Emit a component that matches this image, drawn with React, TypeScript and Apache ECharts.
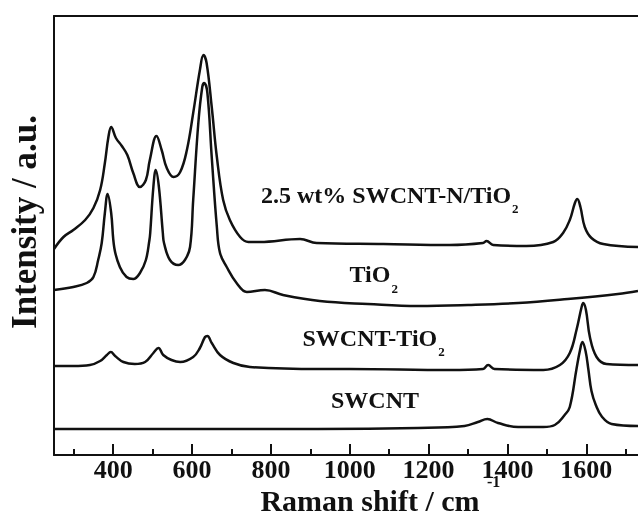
import React, { useEffect, useRef } from "react";
import * as echarts from "echarts";

// 2.5 wt% SWCNT-N/TiO2 (top spectrum)
const nTiO2Wn = [250, 274, 299, 329, 350, 367, 379, 388, 395, 407, 422, 436, 451, 468, 483, 493, 510, 523, 536, 553, 570, 587, 603, 620, 629, 637, 650, 663, 679, 696, 722, 743, 772, 874, 916, 1085, 1254, 1338, 1347, 1364, 1448, 1516, 1541, 1558, 1571, 1577, 1585, 1596, 1613, 1643, 1731];
const nTiO2Int = [206, 218, 225, 235, 247, 265, 292, 318, 328, 317, 309, 300, 282, 268, 275, 295, 319, 305, 287, 278, 283, 305, 342, 385, 400, 392, 348, 298, 255, 235, 218, 213, 213, 216, 212, 211, 210, 212, 214, 210, 209, 213, 222, 235, 252, 256, 248, 228, 217, 211, 208];

// TiO2
const tiO2Wn = [250, 299, 333, 350, 362, 371, 379, 386, 395, 403, 417, 434, 451, 468, 483, 492, 494, 502, 508, 516, 526, 529, 544, 565, 582, 595, 603, 616, 626, 631, 639, 650, 663, 671, 688, 713, 739, 785, 831, 924, 1046, 1173, 1300, 1427, 1553, 1680, 1731];
const tiO2Int = [165, 168, 172, 178, 195, 212, 242, 261, 242, 207, 188, 178, 176, 182, 195, 215, 222, 268, 285, 268, 222, 212, 195, 190, 195, 208, 255, 332, 368, 372, 362, 298, 228, 202, 188, 172, 163, 165, 160, 154, 151, 149, 150, 152, 156, 161, 164];

// SWCNT-TiO2
const swTiO2Wn = [250, 299, 341, 367, 384, 394, 405, 426, 455, 481, 502, 515, 527, 548, 570, 603, 620, 633, 639, 650, 671, 705, 747, 924, 1000, 1254, 1338, 1351, 1367, 1491, 1533, 1558, 1575, 1588, 1592, 1599, 1609, 1626, 1651, 1731];
const swTiO2Int = [89, 89, 90, 94, 100, 103, 99, 93, 91, 93, 102, 107, 100, 95, 93, 98, 107, 118, 119, 112, 100, 92, 88, 86, 86, 85, 86, 90, 86, 85, 90, 102, 125, 148, 152, 145, 118, 98, 91, 90];

// SWCNT
const swcntWn = [250, 919, 1173, 1291, 1325, 1349, 1376, 1427, 1491, 1520, 1545, 1558, 1575, 1584, 1590, 1598, 1605, 1613, 1624, 1640, 1664, 1731];
const swcntInt = [26, 26, 27, 29, 33, 36, 32, 28, 28, 30, 40, 48, 86, 105, 113, 104, 86, 64, 50, 38, 31, 29];

const majorTicks = [400, 600, 800, 1000, 1200, 1400, 1600];
const minorTicks = [300, 500, 700, 900, 1100, 1300, 1500, 1700];

const xMin = 250;
const xMax = 1731;

function pairs(wn: number[], it: number[]) {
  return wn.map((w, i) => [w, it[i]]);
}

export default function App() {
  const ref = useRef<HTMLDivElement>(null);
  useEffect(() => {
    const chart = echarts.init(ref.current!, null, { renderer: "svg" });
    const font = '"Liberation Serif", "Times New Roman", Times, serif';
    const ink = "#111";
    const lineStyle = { color: ink, width: 2 };
    const labelRich = {
      m: { fontFamily: font, fontWeight: "bold", fontSize: 24, lineHeight: 24, fill: ink },
      s: { fontFamily: font, fontWeight: "bold", fontSize: 13, lineHeight: 13, padding: [28, 0, 0, 1], fill: ink },
    };
    const mkLabel = (x: number, y: number, text: string) => ({
      type: "text",
      silent: true,
      style: { x, y, text, rich: labelRich, align: "left", verticalAlign: "middle", fill: ink,
        fontFamily: font, fontWeight: "bold", fontSize: 24 },
    });
    const mkSeries = (name: string, wn: number[], it: number[]) => ({
      name,
      type: "line",
      data: pairs(wn, it),
      showSymbol: false,
      smooth: 0.4,
      lineStyle: { color: ink, width: 2.5 },
      itemStyle: { color: ink },
    });
    chart.setOption({
      animation: false,
      grid: { left: 54, right: 0, top: 16, bottom: 61, outerBoundsMode: "none", containLabel: false },
      xAxis: [
        {
          type: "value", min: xMin, max: xMax, position: "bottom",
          axisLine: { show: true, onZero: false, lineStyle },
          axisTick: { show: true, inside: true, length: 11, customValues: majorTicks, lineStyle },
          axisLabel: {
            customValues: majorTicks, formatter: (v: number) => String(v),
            fontFamily: font, fontWeight: "bold", fontSize: 26, lineHeight: 26, color: ink, margin: 1,
          },
          splitLine: { show: false },
          name: "Raman shift / cm",
          nameLocation: "middle",
          nameGap: 30.5,
          nameMoveOverlap: false,
          nameTextStyle: {
            fontFamily: font, fontWeight: "bold", fontSize: 30, lineHeight: 30, color: ink, padding: [0, 0, 0, 48],
          },
        },
        {
          type: "value", min: xMin, max: xMax, position: "bottom",
          axisLine: { show: false, onZero: false },
          axisTick: { show: true, inside: true, length: 6, customValues: minorTicks, lineStyle },
          axisLabel: { show: false },
          splitLine: { show: false },
        },
        {
          type: "value", min: xMin, max: xMax, position: "top",
          axisLine: { show: true, onZero: false, lineStyle },
          axisTick: { show: false },
          axisLabel: { show: false },
          splitLine: { show: false },
        },
      ],
      yAxis: {
        type: "value", min: 0, max: 439,
        axisLine: { show: true, onZero: false, lineStyle },
        axisTick: { show: false },
        axisLabel: { show: false },
        splitLine: { show: false },
        name: "Intensity / a.u.",
        nameLocation: "middle",
        nameGap: 12,
        nameMoveOverlap: false,
        nameTextStyle: { fontFamily: font, fontWeight: "bold", fontSize: 35, color: ink, padding: [0, 0, 0, 27] },
      },
      series: [
        mkSeries("2.5 wt% SWCNT-N/TiO2", nTiO2Wn, nTiO2Int),
        mkSeries("TiO2", tiO2Wn, tiO2Int),
        mkSeries("SWCNT-TiO2", swTiO2Wn, swTiO2Int),
        mkSeries("SWCNT", swcntWn, swcntInt),
      ],
      graphic: [
        mkLabel(261, 194.5, "{m|2.5 wt% SWCNT-N/TiO}{s|2}"),
        mkLabel(349.5, 274, "{m|TiO}{s|2}"),
        mkLabel(302.5, 337.5, "{m|SWCNT-TiO}{s|2}"),
        mkLabel(331, 400, "{m|SWCNT}"),
        {
          type: "text",
          silent: true,
          style: { x: 487, y: 481, text: "-1", align: "left", verticalAlign: "middle", fill: ink,
            fontFamily: font, fontWeight: "bold", fontSize: 16 },
        },
      ],
    });
    return () => chart.dispose();
  }, []);
  return <div ref={ref} style={{ position: "fixed", left: 0, top: 0, width: 638, height: 516 }} />;
}
